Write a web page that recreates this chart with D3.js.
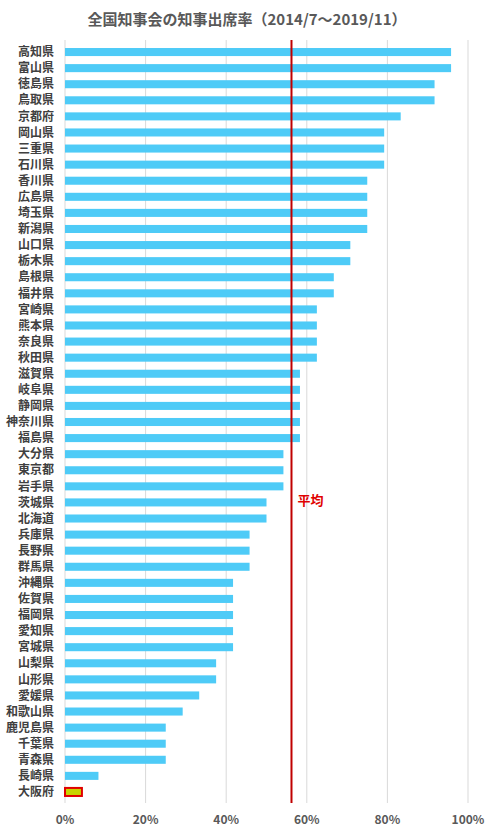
<!DOCTYPE html>
<html>
<head>
<meta charset="utf-8">
<title>知事出席率</title>
<style>
  body { margin: 0; background: #fff; }
  text { font-family: "Noto Sans CJK JP", sans-serif; }
</style>
</head>
<body>
<script src="https://d3js.org/d3.v7.min.js"></script>
<script>
    var width = 494,
        height = 831;

    // 都道府県と出席率 (%)
    var prefs = ['高知県','富山県','徳島県','鳥取県','京都府','岡山県','三重県','石川県','香川県','広島県',
        '埼玉県','新潟県','山口県','栃木県','島根県','福井県','宮崎県','熊本県','奈良県','秋田県',
        '滋賀県','岐阜県','静岡県','神奈川県','福島県','大分県','東京都','岩手県','茨城県','北海道',
        '兵庫県','長野県','群馬県','沖縄県','佐賀県','福岡県','愛知県','宮城県','山梨県','山形県',
        '愛媛県','和歌山県','鹿児島県','千葉県','青森県','長崎県','大阪府'];
    var rates = [95.8,95.8,91.7,91.7,83.3,79.2,79.2,79.2,75,75,
        75,75,70.8,70.8,66.7,66.7,62.5,62.5,62.5,62.5,
        58.3,58.3,58.3,58.3,58.3,54.2,54.2,54.2,50,50,
        45.8,45.8,45.8,41.7,41.7,41.7,41.7,41.7,37.5,37.5,
        33.3,29.2,25,25,25,8.3,4.2];
    var average = 56.2;
    var ticks = [0, 20, 40, 60, 80, 100];

    var svg = d3.select('body').append('svg')
        .attr('width', width)
        .attr('height', height);

    var x = d3.scaleLinear().domain([0, 100]).range([65, 468]);
    var y = d3.scaleBand().domain(prefs).range([44, 800]).paddingInner(0.5).paddingOuter(0.25);

    // grid lines
    svg.selectAll('line.grid')
        .data(ticks)
        .enter().append('line')
        .attr('x1', function (d) { return x(d); })
        .attr('x2', function (d) { return x(d); })
        .attr('y1', 40).attr('y2', 803)
        .attr('stroke', '#d9d9d9').attr('stroke-width', 1);

    svg.selectAll('rect.bar')
        .data(prefs)
        .enter().append('rect')
        .attr('x', x(0))
        .attr('y', function (d) { return y(d); })
        .attr('width', function (d, i) { return x(rates[i]) - x(0); })
        .attr('height', y.bandwidth())
        .attr('fill', function (d) { return d === '大阪府' ? '#c8d400' : '#4ecbf7'; })
        .attr('stroke', function (d) { return d === '大阪府' ? '#e00000' : 'none'; })
        .attr('stroke-width', 2);

    svg.selectAll('text.cat')
        .data(prefs)
        .enter().append('text')
        .attr('x', 54)
        .attr('y', function (d) { return y(d) + y.bandwidth() / 2; })
        .attr('dy', '0.35em')
        .attr('text-anchor', 'end')
        .attr('font-size', 12)
        .attr('font-weight', 'bold')
        .attr('fill', '#404040')
        .text(function (d) { return d; });

    svg.selectAll('text.tick')
        .data(ticks)
        .enter().append('text')
        .attr('x', function (d) { return x(d); })
        .attr('y', 824)
        .attr('text-anchor', 'middle')
        .attr('font-size', 12)
        .attr('font-weight', 'bold')
        .attr('fill', '#595959')
        .text(function (d) { return d + '%'; });

    // average line
    svg.append('line')
        .attr('x1', x(average)).attr('x2', x(average))
        .attr('y1', 40).attr('y2', 803)
        .attr('stroke', '#c00000').attr('stroke-width', 2);
    svg.append('text')
        .attr('x', x(average) + 6).attr('y', 505)
        .attr('font-size', 13).attr('font-weight', 'bold')
        .attr('fill', '#e00000')
        .text('平均');

    svg.append('text')
        .attr('x', 247).attr('y', 25)
        .attr('text-anchor', 'middle')
        .attr('font-size', 15).attr('font-weight', 'bold')
        .attr('fill', '#595959')
        .text('全国知事会の知事出席率（2014/7～2019/11）');
</script>
</body>
</html>
